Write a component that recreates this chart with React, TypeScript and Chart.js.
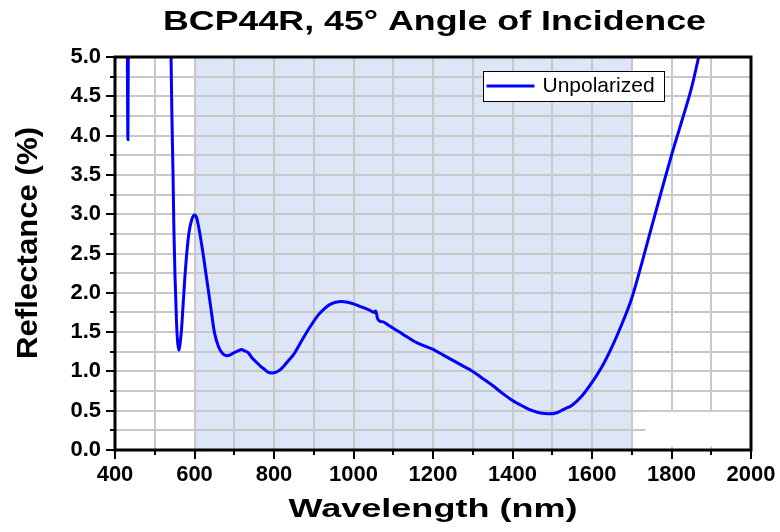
import React, { useEffect, useRef } from 'react';
import { Chart, registerables } from 'chart.js';

Chart.register(...registerables);

const TITLE = 'BCP44R, 45° Angle of Incidence';
const X_LABEL = 'Wavelength (nm)';
const Y_LABEL = 'Reflectance (%)';
const SERIES_NAME = 'Unpolarized';

const X_MIN = 400;
const X_MAX = 2000;
const Y_MIN = 0;
const Y_MAX = 5;
const SHADE_FROM = 600;
const SHADE_TO = 1700;

const wavelengths = [
  430, 432.5, 434.5, 450, 520, 538, 541, 543, 546, 548, 551, 555, 558, 561, 564, 568, 572, 578, 586, 593,
  600, 605, 610, 620, 630, 640, 650, 660, 670, 680, 690, 700, 710, 718, 726, 735, 745, 755, 765, 775,
  785, 795, 805, 815, 825, 835, 850, 865, 880, 895, 910, 925, 940, 955, 970, 985, 1000, 1020, 1040, 1052,
  1056, 1060, 1066, 1075, 1090, 1100, 1125, 1150, 1175, 1200, 1225, 1250, 1275, 1300, 1325, 1350, 1375, 1400, 1425, 1450,
  1470, 1490, 1510, 1530, 1550, 1575, 1600, 1625, 1650, 1675, 1700, 1725, 1750, 1775, 1800, 1825, 1850, 1875, 1900,
];

const reflectance = [
  6.5, 3.95, 6.5, 9.0, 9.0, 6.0, 5.0, 4.3, 3.5, 2.85, 2.2, 1.6, 1.35, 1.27, 1.36, 1.58, 1.9, 2.35, 2.76, 2.93,
  2.99, 2.96, 2.85, 2.55, 2.2, 1.85, 1.5, 1.32, 1.23, 1.2, 1.21, 1.24, 1.26, 1.28, 1.26, 1.24, 1.17, 1.12, 1.07, 1.03,
  0.99, 0.98, 0.99, 1.02, 1.07, 1.13, 1.22, 1.35, 1.48, 1.6, 1.71, 1.79, 1.85, 1.88, 1.89, 1.88, 1.86, 1.82, 1.78, 1.75,
  1.77, 1.68, 1.64, 1.63, 1.58, 1.55, 1.47, 1.39, 1.33, 1.28, 1.21, 1.14, 1.07, 1.0, 0.91, 0.82, 0.72, 0.63, 0.56, 0.5,
  0.47, 0.46, 0.47, 0.52, 0.57, 0.69, 0.86, 1.06, 1.31, 1.6, 1.93, 2.37, 2.84, 3.3, 3.75, 4.17, 4.6, 5.15, 5.7,
];

const FONT = "'Liberation Sans', Arial, Helvetica, sans-serif";

function drawStretched(
  ctx: CanvasRenderingContext2D,
  text: string,
  cx: number,
  cy: number,
  font: string,
  targetWidth: number,
  rotation: number
) {
  ctx.save();
  ctx.translate(cx, cy);
  ctx.rotate(rotation);
  ctx.font = font;
  const w = ctx.measureText(text).width;
  ctx.scale(targetWidth / w, 1);
  ctx.textAlign = 'center';
  ctx.textBaseline = 'alphabetic';
  ctx.fillStyle = '#000';
  ctx.fillText(text, 0, 0);
  ctx.restore();
}

const decorPlugin = {
  id: 'decor',
  beforeDraw(chart: any) {
    const { ctx, chartArea, scales } = chart;
    const { top, bottom } = chartArea;
    ctx.save();
    ctx.fillStyle = '#ffffff';
    ctx.fillRect(0, 0, chart.width, chart.height);
    const x0 = scales.x.getPixelForValue(SHADE_FROM);
    const x1 = scales.x.getPixelForValue(SHADE_TO);
    ctx.fillStyle = '#dde6f7';
    ctx.fillRect(x0, top, x1 - x0, bottom - top);
    ctx.restore();
  },
  beforeDatasetsDraw(chart: any) {
    const { ctx, scales } = chart;
    const x0 = scales.x.getPixelForValue(1735);
    const x1 = scales.x.getPixelForValue(X_MAX);
    const y0 = scales.y.getPixelForValue(0.485);
    const y1 = scales.y.getPixelForValue(0.045);
    ctx.save();
    ctx.fillStyle = '#ffffff';
    ctx.fillRect(x0, y0, x1 - x0, y1 - y0);
    ctx.restore();
  },
  afterDraw(chart: any) {
    const { ctx, chartArea, scales } = chart;
    const { left, right, top, bottom } = chartArea;
    ctx.save();
    // tick marks
    ctx.strokeStyle = '#000';
    ctx.lineWidth = 2;
    for (let v = X_MIN; v <= X_MAX; v += 100) {
      const px = Math.round(scales.x.getPixelForValue(v));
      const len = v % 200 === 0 ? 9 : 5;
      ctx.beginPath();
      ctx.moveTo(px, bottom);
      ctx.lineTo(px, bottom + len);
      ctx.stroke();
    }
    for (let i = 0; i <= 20; i++) {
      const v = i * 0.25;
      const py = Math.round(scales.y.getPixelForValue(v));
      const len = i % 2 === 0 ? 9 : 5;
      ctx.beginPath();
      ctx.moveTo(left - len, py);
      ctx.lineTo(left, py);
      ctx.stroke();
    }
    // frame
    ctx.lineWidth = 3;
    ctx.strokeRect(left, top, right - left, bottom - top);

    // legend
    const lx = 483.5, ly = 71.5, lw = 181, lh = 30;
    ctx.fillStyle = '#fff';
    ctx.fillRect(lx, ly, lw, lh);
    ctx.lineWidth = 1;
    ctx.strokeStyle = '#000';
    ctx.strokeRect(lx, ly, lw, lh);
    ctx.strokeStyle = '#0000ff';
    ctx.lineWidth = 3;
    ctx.beginPath();
    ctx.moveTo(lx + 3, ly + 14.5);
    ctx.lineTo(lx + 51, ly + 14.5);
    ctx.stroke();
    ctx.fillStyle = '#000';
    ctx.font = `21px ${FONT}`;
    ctx.textAlign = 'left';
    ctx.textBaseline = 'alphabetic';
    ctx.fillText(SERIES_NAME, lx + 59, ly + 20.5);
    ctx.restore();

    // titles
    const cx = (left + right) / 2;
    drawStretched(ctx, TITLE, 434.5, 30, `bold 28px ${FONT}`, 543, 0);
    drawStretched(ctx, X_LABEL, cx, 517, `bold 26px ${FONT}`, 289, 0);
    drawStretched(ctx, Y_LABEL, 37, 243, `bold 30px ${FONT}`, 232, -Math.PI / 2);
  },
};

export default function App() {
  const canvasRef = useRef<HTMLCanvasElement | null>(null);

  useEffect(() => {
    const canvas = canvasRef.current;
    if (!canvas) return;
    const chart = new Chart(canvas, {
      type: 'line',
      data: {
        datasets: [
          {
            label: SERIES_NAME,
            data: wavelengths.map((w, i) => ({ x: w, y: reflectance[i] })),
            borderColor: '#0000ff',
            borderWidth: 3,
            pointRadius: 0,
            cubicInterpolationMode: 'monotone',
            fill: false,
            clip: 0,
          } as any,
        ],
      },
      options: {
        animation: false,
        responsive: false,
        devicePixelRatio: 1,
        layout: { padding: { top: 57, right: 29, left: 0, bottom: 0 } },
        plugins: {
          legend: { display: false },
          title: { display: false },
          tooltip: { enabled: false },
        },
        scales: {
          x: {
            type: 'linear',
            min: X_MIN,
            max: X_MAX,
            afterFit: (s: any) => {
              s.height = 82;
              s.paddingLeft = 0;
              s.paddingRight = 0;
            },
            grid: { color: '#c8c8c8', lineWidth: 2, drawTicks: false },
            border: { display: false },
            ticks: {
              stepSize: 100,
              autoSkip: false,
              maxRotation: 0,
              padding: 12,
              color: '#000',
              font: { family: FONT, size: 22, weight: 'bold' },
              callback: (v: any) => (Number(v) % 200 === 0 ? String(v) : ''),
            },
          },
          y: {
            type: 'linear',
            min: Y_MIN,
            max: Y_MAX,
            afterFit: (s: any) => {
              s.width = 115;
              s.paddingTop = 0;
              s.paddingBottom = 0;
            },
            grid: { color: '#c8c8c8', lineWidth: 2, drawTicks: false },
            border: { display: false },
            ticks: {
              stepSize: 0.25,
              autoSkip: false,
              padding: 14,
              color: '#000',
              font: { family: FONT, size: 22, weight: 'bold' },
              callback: (v: any) => {
                const n = Number(v);
                return Math.abs(n * 2 - Math.round(n * 2)) < 1e-6 ? n.toFixed(1) : '';
              },
            },
          },
        },
      },
      plugins: [decorPlugin],
    });
    return () => chart.destroy();
  }, []);

  return (
    <div style={{ position: 'fixed', left: 0, top: 0, width: 780, height: 532, background: '#fff' }}>
      <canvas ref={canvasRef} width={780} height={532} style={{ display: 'block' }} />
    </div>
  );
}
